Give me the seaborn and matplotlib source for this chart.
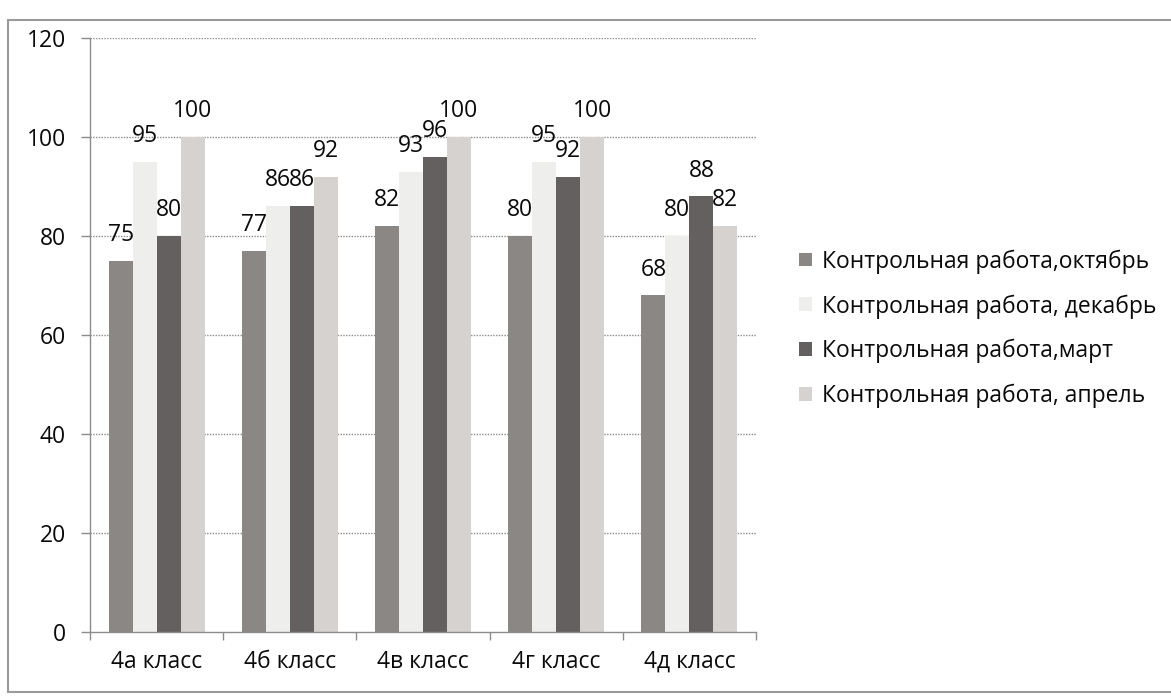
import matplotlib
matplotlib.use("Agg")
import matplotlib.pyplot as plt
import seaborn as sns
import pandas as pd
from matplotlib.lines import Line2D
from matplotlib.ticker import FixedLocator

classes = ["4а класс", "4б класс", "4в класс", "4г класс", "4д класс"]
series = ["Контрольная работа,октябрь", "Контрольная работа, декабрь",
          "Контрольная работа,март", "Контрольная работа, апрель"]
october = [75, 77, 82, 80, 68]
december = [95, 86, 93, 95, 80]
march = [80, 86, 96, 92, 88]
april = [100, 92, 100, 100, 82]
colors = ["#8a8784", "#eeeeec", "#646060", "#d5d2d0"]

rows = []
for s, vals in zip(series, [october, december, march, april]):
    for c, v in zip(classes, vals):
        rows.append({"class": c, "series": s, "value": v})
df = pd.DataFrame(rows)

sns.set_theme(style="white")
plt.rcParams["font.family"] = ["Open Sans", "DejaVu Sans"]

FS = 16.5
W, H = 1171, 697
fig = plt.figure(figsize=(W / 100, H / 100), dpi=100)
ax = fig.add_axes([90 / W, 1 - 632 / H, (756 - 90) / W, (632 - 38) / H])

sns.barplot(data=df, x="class", y="value", hue="series", hue_order=series,
            order=classes, palette=colors, width=0.72, gap=0,
            saturation=1, ax=ax, legend=True, zorder=3, linewidth=0)

ax.set_ylim(0, 120)
ax.set_xlim(-0.5, len(classes) - 0.5)
ax.set_yticks(range(0, 121, 20))
ax.set_xlabel("")
ax.set_ylabel("")

for y in range(20, 121, 20):
    ax.axhline(y, color="#8c8c8c", lw=1.0, ls=(0, (1, 1)), zorder=1)

for sp in ["top", "right"]:
    ax.spines[sp].set_visible(False)
for sp in ["left", "bottom"]:
    ax.spines[sp].set_color("#8c8c8c")
    ax.spines[sp].set_linewidth(1.0)
    ax.spines[sp].set_zorder(4)

ax.tick_params(axis="y", which="major", left=True, length=6.5, width=1,
               color="#8c8c8c", pad=11, labelsize=FS, labelcolor="#0a0a0a")
ax.tick_params(axis="x", which="major", bottom=False, length=0, pad=13,
               labelsize=FS, labelcolor="#0a0a0a")
ax.xaxis.set_minor_locator(FixedLocator([i - 0.5 for i in range(len(classes) + 1)]))
ax.tick_params(axis="x", which="minor", bottom=True, length=6, width=1,
               color="#8c8c8c", direction="out")

for cont in ax.containers:
    ax.bar_label(cont, fmt="%d", padding=10, fontsize=FS, color="#0a0a0a")

leg = ax.get_legend()
handles = leg.legend_handles
leg.remove()
fig.legend(handles, series, loc="upper left", bbox_to_anchor=(790 / W, 1 - 240 / H),
           frameon=False, fontsize=FS, handlelength=0.55, handleheight=0.55,
           handletextpad=0.45, labelspacing=0.9, borderaxespad=0,
           labelcolor="#0a0a0a")

# outer chart frame (partially visible scan)
frame_col = "#9a9a9a"
fig.add_artist(Line2D([8 / W, 1], [1 - 20 / H, 1 - 20 / H], color=frame_col, lw=1.5))
fig.add_artist(Line2D([8 / W, 8 / W], [1 - 20 / H, 1 - 692 / H], color=frame_col, lw=1.5))
fig.add_artist(Line2D([8 / W, 1], [1 - 692 / H, 1 - 692 / H], color=frame_col, lw=1.5))

fig.savefig("out.png", dpi=100)
